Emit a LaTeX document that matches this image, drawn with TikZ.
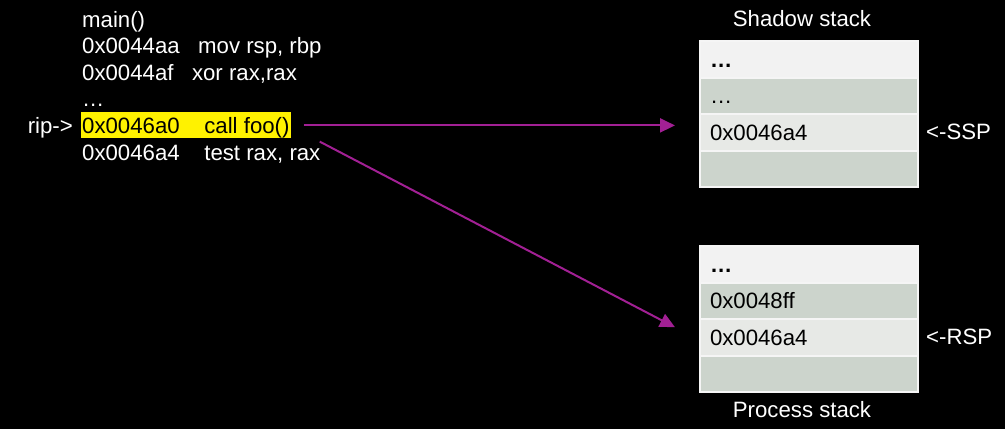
\documentclass[tikz,border=0pt]{standalone}
\usepackage{fontspec}
\setmainfont{Liberation Sans}
\usetikzlibrary{positioning,arrows.meta}

\definecolor{callpurple}{RGB}{162,32,148}
\definecolor{cellpale}{RGB}{242,242,242}
\definecolor{cellgreen}{RGB}{204,212,204}
\definecolor{cellgrey}{RGB}{231,233,230}

\begin{document}
\begin{tikzpicture}[
  x=1pt, y=-1pt,
  font=\fontsize{22.2}{26}\selectfont,
  code/.style={
    anchor=base west,
    inner sep=0pt,
    text=white
  },
  cell/.style={
    rectangle,
    draw=white!96!black,
    line width=2pt,
    outer sep=0pt,
    fill=cellgreen,
    minimum width=218pt,
    minimum height=36.5pt,
    text width=198pt,
    inner xsep=10pt,
    text height=16pt,
    text depth=0pt,
    align=left
  },
  tag/.style={inner sep=0pt, text=white},
  flow/.style={-{Triangle[length=15pt,width=14pt]}, line width=2pt, draw=callpurple, fill=callpurple}
]

\fill[black] (0,0) rectangle (1005,429);
\useasboundingbox (0,0) rectangle (1005,429);

\node[code] (main) at (82,27) {main()};
\node[code] (mov) at (82,53.6) {0x0044aa~~~mov rsp, rbp};
\node[code] (xor) at (82,80.2) {0x0044af~~~xor rax,rax};
\node[code] (skip) at (82,106.8) {…};
\node[code, fill=yellow, text=black, inner xsep=1pt, text height=21pt, text depth=5pt] (call) at (81,133.4) {0x0046a0~~~~call foo()};
\node[code] (test) at (82,160) {0x0046a4~~~~test rax, rax};
\node[code, anchor=base east] (rip) at ([xshift=-8pt]call.base west) {rip->};

\node[cell, fill=cellpale] (ssp1) at (809,59.25) {\textbf{…}};
\node[cell, below=0pt of ssp1] (ssp2) {…};
\node[cell, fill=cellgrey, below=0pt of ssp2] (ssp3) {0x0046a4};
\node[cell, below=0pt of ssp3] (ssp4) {};
\node[tag, above=14pt of ssp1, xshift=-7pt] (shadow) {Shadow stack};
\node[tag, right=8pt of ssp3] (ssp) {<-SSP};

\node[cell, fill=cellpale] (rsp1) at (809,264.25) {\textbf{…}};
\node[cell, below=0pt of rsp1] (rsp2) {0x0048ff};
\node[cell, fill=cellgrey, below=0pt of rsp2] (rsp3) {0x0046a4};
\node[cell, below=0pt of rsp3] (rsp4) {};
\node[tag, below=9pt of rsp4, xshift=-7pt] (process) {Process stack};
\node[tag, right=8pt of rsp3] (rsp) {<-RSP};

\draw[flow] ([xshift=13pt]call.east) -- ([xshift=-25pt]call.east -| ssp3.west);
\draw[flow] ([xshift=29pt,yshift=-3pt]call.south east) -- ([xshift=-25pt,yshift=10pt]rsp3.west);

\end{tikzpicture}
\end{document}
